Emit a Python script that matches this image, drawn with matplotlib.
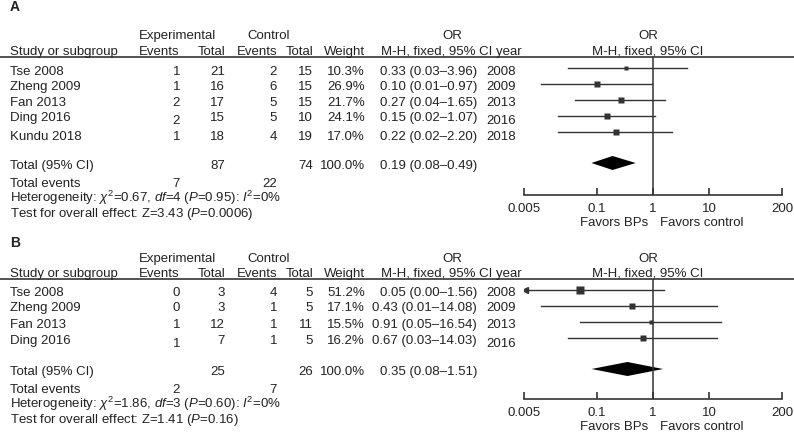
import matplotlib.pyplot as plt
import numpy as np

plt.rcParams['font.family'] = ['Liberation Sans', 'DejaVu Sans']
plt.rcParams['mathtext.fontset'] = 'custom'
plt.rcParams['mathtext.rm'] = 'Liberation Sans'
plt.rcParams['mathtext.it'] = 'Liberation Sans:italic'

# panel A data
studiesA = ["Tse 2008", "Zheng 2009", "Fan 2013", "Ding 2016", "Kundu 2018"]
expEventsA = [1, 1, 2, 2, 1]
expTotalA = [21, 16, 17, 15, 18]
ctrlEventsA = [2, 6, 5, 5, 4]
ctrlTotalA = [15, 15, 15, 10, 19]
weightA = [10.3, 26.9, 21.7, 24.1, 17.0]
orA = [0.33, 0.10, 0.27, 0.15, 0.22]
lowA = [0.03, 0.01, 0.04, 0.02, 0.02]
highA = [3.96, 0.97, 1.65, 1.07, 2.20]
yearA = [2008, 2009, 2013, 2016, 2018]
totalA = {"exp": 87, "ctrl": 74, "or": 0.19, "low": 0.08, "high": 0.49, "ev_exp": 7, "ev_ctrl": 22}
hetA = r"Heterogeneity: $\chi^2$=0.67, $df$=4 ($P$=0.95): $I^2$=0%"
testA = r"Test for overall effect: Z=3.43 ($P$=0.0006)"

# panel B data
studiesB = ["Tse 2008", "Zheng 2009", "Fan 2013", "Ding 2016"]
expEventsB = [0, 0, 1, 1]
expTotalB = [3, 3, 12, 7]
ctrlEventsB = [4, 1, 1, 1]
ctrlTotalB = [5, 5, 11, 5]
weightB = [51.2, 17.1, 15.5, 16.2]
orB = [0.05, 0.43, 0.91, 0.67]
lowB = [0.00, 0.01, 0.05, 0.03]
highB = [1.56, 14.08, 16.54, 14.03]
yearB = [2008, 2009, 2013, 2016]
totalB = {"exp": 25, "ctrl": 26, "or": 0.35, "low": 0.08, "high": 1.51, "ev_exp": 2, "ev_ctrl": 7}
hetB = r"Heterogeneity: $\chi^2$=1.86, $df$=3 ($P$=0.60): $I^2$=0%"
testB = r"Test for overall effect: Z=1.41 ($P$=0.16)"

ticks = [0.005, 0.1, 1, 10, 200]
tickLabels = ["0.005", "0.1", "1", "10", "200"]

W, H = 794, 434
fig = plt.figure(figsize=(W / 100, H / 100), dpi=100)
tab = fig.add_axes([0, 0, 1, 1])
tab.set_xlim(0, W)
tab.set_ylim(H, 0)
tab.axis('off')

fs = 9.5
col = '#222222'


def txt(x, y, s, ha='left', **kw):
  tab.text(x, y, s, ha=ha, va='center', fontsize=fs, color=col, **kw)


def panel(label, labelY, head1Y, head2Y, lineY, studies, expEv, expTot, ctrlEv, ctrlTot, weight,
          orv, low, high, year, total, het, test, rowsY, markY, totY, diaY, axisY):
  tab.text(10, labelY, label, fontsize=10, fontweight='bold', va='center', color=col)
  txt(178, head1Y, "Experimental", ha='center')
  txt(269, head1Y, "Control", ha='center')
  txt(452, head1Y, "OR", ha='center')
  txt(648, head1Y, "OR", ha='center')
  hy = head2Y
  txt(10, hy, "Study or subgroup")
  txt(180, hy, "Events", ha='right')
  txt(225, hy, "Total", ha='right')
  txt(277, hy, "Events", ha='right')
  txt(313, hy, "Total", ha='right')
  txt(365, hy, "Weight", ha='right')
  txt(381, hy, "M-H, fixed, 95% CI year")
  txt(648, hy, "M-H, fixed, 95% CI", ha='center')
  tab.plot([0, W], [lineY, lineY], color='#444444', lw=1.3)

  for i in range(len(studies)):
    y = rowsY[i]
    dy = 3 if studies[i].startswith("Ding") else 0
    txt(10, y, studies[i])
    txt(180, y + dy, str(expEv[i]), ha='right')
    txt(225, y, str(expTot[i]), ha='right')
    txt(277, y, str(ctrlEv[i]), ha='right')
    txt(313, y, str(ctrlTot[i]), ha='right')
    txt(365, y, "%.1f%%" % weight[i], ha='right')
    txt(477, y, "%.2f (%.2f–%.2f)" % (orv[i], low[i], high[i]), ha='right')
    txt(486, y + dy, str(year[i]))

  txt(10, totY, "Total (95% CI)")
  txt(225, totY, str(total["exp"]), ha='right')
  txt(313, totY, str(total["ctrl"]), ha='right')
  txt(365, totY, "100.0%", ha='right')
  txt(477, totY, "%.2f (%.2f–%.2f)" % (total["or"], total["low"], total["high"]), ha='right')
  txt(10, totY + 18, "Total events")
  txt(180, totY + 18, str(total["ev_exp"]), ha='right')
  txt(277, totY + 18, str(total["ev_ctrl"]), ha='right')
  txt(10, totY + 32, het)
  txt(10, totY + 48, test)

  # forest axes, y in pixel units so rows line up with the table
  x0, x1 = 524, 782
  ax = fig.add_axes([x0 / W, 1 - axisY / H, (x1 - x0) / W, (axisY - lineY) / H])
  ax.set_xscale('log')
  ax.set_xlim(0.005, 200)
  ax.set_ylim(axisY, lineY)
  ax.patch.set_alpha(0)
  for s in ['top', 'left', 'right']:
    ax.spines[s].set_visible(False)
  ax.spines['bottom'].set_color('#333333')
  ax.spines['bottom'].set_linewidth(1.2)
  ax.set_yticks([])
  ax.set_xticks(ticks)
  ax.set_xticklabels(tickLabels)
  ax.minorticks_off()
  ax.tick_params(axis='x', direction='in', length=5, width=1.2, color='#333333',
                 labelsize=fs, labelcolor=col, pad=6)
  ax.axvline(1, color='#333333', lw=1.1)
  for i in range(len(studies)):
    y = markY[i]
    lo = max(low[i], 0.005)
    ax.plot([lo, high[i]], [y, y], color='#333333', lw=1.0)
    if low[i] < 0.005:
      ax.plot([0.0053], [y], marker='<', ms=4, color='#333333')
    side = 1.25 * np.sqrt(weight[i])
    ax.plot([orv[i]], [y], marker='s', ms=side * 0.72, color='#333333', mec='none')
  dh = 7
  ax.fill([total["low"], total["or"], total["high"], total["or"]],
          [diaY, diaY - dh, diaY, diaY + dh], color='black', lw=0)
  tab.text(648, axisY + 28, "Favors BPs", ha='right', va='center', fontsize=fs, color=col)
  tab.text(660, axisY + 28, "Favors control", ha='left', va='center', fontsize=fs, color=col)


panel("A", 7, 36, 52, 57, studiesA, expEventsA, expTotalA, ctrlEventsA, ctrlTotalA, weightA,
      orA, lowA, highA, yearA, totalA, hetA, testA,
      [72, 87, 103, 118, 137], [68, 84, 100, 116, 132], 166, 163, 195)
panel("B", 243, 259, 274, 279, studiesB, expEventsB, expTotalB, ctrlEventsB, ctrlTotalB, weightB,
      orB, lowB, highB, yearB, totalB, hetB, testB,
      [293, 308, 325, 341], [290, 306, 322, 338], 372, 369, 399)

fig.savefig("out.png", dpi=100)
